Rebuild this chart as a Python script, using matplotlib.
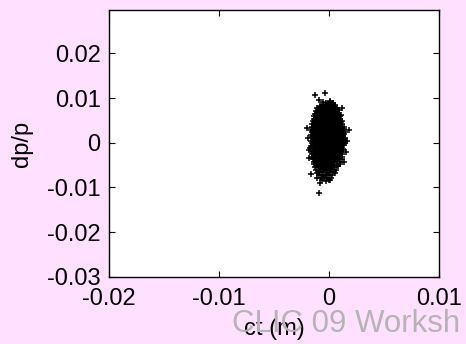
import matplotlib
matplotlib.use("Agg")
import matplotlib.pyplot as plt
import numpy as np

plt.rcParams['font.family'] = ['Liberation Sans', 'DejaVu Sans']

# longitudinal phase space, ct in mm and dp/p in units of 1e-3
ct_core = [
    -0.55, -0.25, 0.05, 0.4,
    -0.85, -0.6, -0.3, 0.0, 0.3, 0.55,
    -1.05, -0.75, -0.45, -0.15, 0.15, 0.45, 0.75,
    -1.2, -0.9, -0.6, -0.3, 0.0, 0.3, 0.6, 0.9,
    -1.25, -0.95, -0.65, -0.35, -0.05, 0.25, 0.55, 0.85,
    -1.35, -1.05, -0.75, -0.45, -0.15, 0.15, 0.45, 0.75, 1.0,
    -1.4, -1.1, -0.8, -0.5, -0.2, 0.1, 0.4, 0.7, 1.0,
    -1.45, -1.15, -0.85, -0.55, -0.25, 0.05, 0.35, 0.65, 0.95, 1.2,
    -1.5, -1.2, -0.9, -0.6, -0.3, 0.0, 0.3, 0.6, 0.9, 1.2,
    -1.55, -1.25, -0.95, -0.65, -0.35, -0.05, 0.25, 0.55, 0.85, 1.15, 1.35,
    -1.6, -1.3, -1.0, -0.7, -0.4, -0.1, 0.2, 0.5, 0.8, 1.1, 1.4,
    -1.55, -1.25, -0.95, -0.65, -0.35, -0.05, 0.25, 0.55, 0.85, 1.15, 1.45,
    -1.6, -1.3, -1.0, -0.7, -0.4, -0.1, 0.2, 0.5, 0.8, 1.1, 1.4,
    -1.5, -1.2, -0.9, -0.6, -0.3, 0.0, 0.3, 0.6, 0.9, 1.2, 1.45,
    -1.6, -1.3, -1.0, -0.7, -0.4, -0.1, 0.2, 0.5, 0.8, 1.1, 1.4,
    -1.5, -1.2, -0.9, -0.6, -0.3, 0.0, 0.3, 0.6, 0.9, 1.2, 1.45,
    -1.6, -1.3, -1.0, -0.7, -0.4, -0.1, 0.2, 0.5, 0.8, 1.1, 1.35,
    -1.7, -1.4, -1.1, -0.8, -0.5, -0.2, 0.1, 0.4, 0.7, 1.0, 1.3,
    -1.6, -1.3, -1.0, -0.7, -0.4, -0.1, 0.2, 0.5, 0.8, 1.1, 1.3,
    -1.5, -1.2, -0.9, -0.6, -0.3, 0.0, 0.3, 0.6, 0.9, 1.2,
    -1.5, -1.25, -0.95, -0.65, -0.35, -0.05, 0.25, 0.55, 0.85, 1.15,
    -1.45, -1.15, -0.85, -0.55, -0.25, 0.05, 0.35, 0.65, 0.95, 1.2,
    -1.4, -1.1, -0.8, -0.5, -0.2, 0.1, 0.4, 0.7, 1.0,
    -1.35, -1.05, -0.75, -0.45, -0.15, 0.15, 0.45, 0.75, 1.0,
    -1.3, -1.0, -0.7, -0.4, -0.1, 0.2, 0.5, 0.85,
    -1.2, -0.9, -0.6, -0.3, 0.0, 0.3, 0.6,
    -1.1, -0.8, -0.5, -0.2, 0.1, 0.4,
    -0.9, -0.6, -0.3, 0.0, 0.3,
    -0.75, -0.45, -0.15, 0.15,
    -0.6, -0.3, 0.0,
]
dpp_core = [
    9.1, 8.9, 9.2, 8.8,
    8.3, 8.5, 8.4, 8.6, 8.3, 8.5,
    7.7, 7.9, 7.8, 7.7, 7.9, 7.8, 7.7,
    7.1, 7.3, 7.2, 7.1, 7.3, 7.2, 7.1, 7.3,
    6.5, 6.7, 6.6, 6.5, 6.7, 6.6, 6.5, 6.7,
    6.0, 5.9, 6.1, 6.0, 5.9, 6.1, 6.0, 5.9, 6.1,
    5.3, 5.5, 5.4, 5.3, 5.5, 5.4, 5.3, 5.5, 5.4,
    4.8, 4.7, 4.9, 4.8, 4.7, 4.9, 4.8, 4.7, 4.9, 4.8,
    4.1, 4.3, 4.2, 4.1, 4.3, 4.2, 4.1, 4.3, 4.2, 4.1,
    3.6, 3.5, 3.7, 3.6, 3.5, 3.7, 3.6, 3.5, 3.7, 3.6, 3.5,
    2.9, 3.1, 3.0, 2.9, 3.1, 3.0, 2.9, 3.1, 3.0, 2.9, 3.1,
    2.4, 2.3, 2.5, 2.4, 2.3, 2.5, 2.4, 2.3, 2.5, 2.4, 2.3,
    1.7, 1.9, 1.8, 1.7, 1.9, 1.8, 1.7, 1.9, 1.8, 1.7, 1.9,
    1.2, 1.1, 1.3, 1.2, 1.1, 1.3, 1.2, 1.1, 1.3, 1.2, 1.1,
    0.5, 0.7, 0.6, 0.5, 0.7, 0.6, 0.5, 0.7, 0.6, 0.5, 0.7,
    0.0, -0.1, 0.1, 0.0, -0.1, 0.1, 0.0, -0.1, 0.1, 0.0, -0.1,
    -0.7, -0.5, -0.6, -0.7, -0.5, -0.6, -0.7, -0.5, -0.6, -0.7, -0.5,
    -1.2, -1.3, -1.1, -1.2, -1.3, -1.1, -1.2, -1.3, -1.1, -1.2, -1.3,
    -1.9, -1.7, -1.8, -1.9, -1.7, -1.8, -1.9, -1.7, -1.8, -1.9, -1.7,
    -2.4, -2.5, -2.3, -2.4, -2.5, -2.3, -2.4, -2.5, -2.3, -2.4,
    -3.1, -2.9, -3.0, -3.1, -2.9, -3.0, -3.1, -2.9, -3.0, -3.1,
    -3.6, -3.7, -3.5, -3.6, -3.7, -3.5, -3.6, -3.7, -3.5, -3.6,
    -4.3, -4.1, -4.2, -4.3, -4.1, -4.2, -4.3, -4.1, -4.2,
    -4.8, -4.9, -4.7, -4.8, -4.9, -4.7, -4.8, -4.9, -4.7,
    -5.5, -5.3, -5.4, -5.5, -5.3, -5.4, -5.5, -5.3,
    -6.0, -6.1, -5.9, -6.0, -6.1, -5.9, -6.0,
    -6.7, -6.5, -6.6, -6.7, -6.5, -6.6,
    -7.2, -7.3, -7.1, -7.2, -7.3,
    -7.8, -7.7, -7.9, -7.8,
    -8.3, -8.5, -8.4,
]

# densest part of the bunch, between the rows above
ct_inner = [
    -0.75, -0.45, -0.15, 0.15, 0.45,
    -0.9, -0.6, -0.3, 0.0, 0.3, 0.6,
    -1.05, -0.75, -0.45, -0.15, 0.15, 0.45, 0.75,
    -1.1, -0.8, -0.5, -0.2, 0.1, 0.4, 0.7,
    -1.2, -0.9, -0.6, -0.3, 0.0, 0.3, 0.6, 0.85,
    -1.25, -0.95, -0.65, -0.35, -0.05, 0.25, 0.55, 0.85,
    -1.3, -1.0, -0.7, -0.4, -0.1, 0.2, 0.5, 0.8, 1.05,
    -1.35, -1.05, -0.75, -0.45, -0.15, 0.15, 0.45, 0.75, 1.0,
    -1.4, -1.1, -0.8, -0.5, -0.2, 0.1, 0.4, 0.7, 1.0, 1.2,
    -1.35, -1.05, -0.75, -0.45, -0.15, 0.15, 0.45, 0.75, 1.05, 1.3,
    -1.4, -1.1, -0.8, -0.5, -0.2, 0.1, 0.4, 0.7, 1.0, 1.25,
    -1.35, -1.05, -0.75, -0.45, -0.15, 0.15, 0.45, 0.75, 1.05, 1.3,
    -1.4, -1.1, -0.8, -0.5, -0.2, 0.1, 0.4, 0.7, 1.0, 1.25,
    -1.35, -1.05, -0.75, -0.45, -0.15, 0.15, 0.45, 0.75, 1.05, 1.3,
    -1.45, -1.15, -0.85, -0.55, -0.25, 0.05, 0.35, 0.65, 0.95, 1.2,
    -1.35, -1.05, -0.75, -0.45, -0.15, 0.15, 0.45, 0.75, 1.05,
    -1.3, -1.0, -0.7, -0.4, -0.1, 0.2, 0.5, 0.8, 1.05,
    -1.35, -1.05, -0.75, -0.45, -0.15, 0.15, 0.45, 0.75, 1.0,
    -1.25, -0.95, -0.65, -0.35, -0.05, 0.25, 0.55, 0.85,
    -1.2, -0.9, -0.6, -0.3, 0.0, 0.3, 0.6, 0.85,
    -1.15, -0.85, -0.55, -0.25, 0.05, 0.35, 0.65,
    -1.05, -0.75, -0.45, -0.15, 0.15, 0.45,
    -0.95, -0.65, -0.35, -0.05, 0.25,
    -0.75, -0.45, -0.15, 0.1,
]
dpp_inner = [
    8.1, 8.0, 8.2, 8.1, 8.0,
    7.5, 7.4, 7.6, 7.5, 7.4, 7.6,
    6.9, 6.8, 7.0, 6.9, 6.8, 7.0, 6.9,
    6.3, 6.2, 6.4, 6.3, 6.2, 6.4, 6.3,
    5.7, 5.6, 5.8, 5.7, 5.6, 5.8, 5.7, 5.6,
    5.1, 5.0, 5.2, 5.1, 5.0, 5.2, 5.1, 5.0,
    4.5, 4.4, 4.6, 4.5, 4.4, 4.6, 4.5, 4.4, 4.6,
    3.9, 3.8, 4.0, 3.9, 3.8, 4.0, 3.9, 3.8, 4.0,
    3.3, 3.2, 3.4, 3.3, 3.2, 3.4, 3.3, 3.2, 3.4, 3.3,
    2.7, 2.6, 2.8, 2.7, 2.6, 2.8, 2.7, 2.6, 2.8, 2.7,
    2.1, 2.0, 2.2, 2.1, 2.0, 2.2, 2.1, 2.0, 2.2, 2.1,
    1.5, 1.4, 1.6, 1.5, 1.4, 1.6, 1.5, 1.4, 1.6, 1.5,
    0.9, 0.8, 1.0, 0.9, 0.8, 1.0, 0.9, 0.8, 1.0, 0.9,
    0.3, 0.2, 0.4, 0.3, 0.2, 0.4, 0.3, 0.2, 0.4, 0.3,
    -0.3, -0.4, -0.2, -0.3, -0.4, -0.2, -0.3, -0.4, -0.2, -0.3,
    -0.9, -1.0, -0.8, -0.9, -1.0, -0.8, -0.9, -1.0, -0.8,
    -1.5, -1.6, -1.4, -1.5, -1.6, -1.4, -1.5, -1.6, -1.4,
    -2.1, -2.2, -2.0, -2.1, -2.2, -2.0, -2.1, -2.2, -2.0,
    -2.7, -2.8, -2.6, -2.7, -2.8, -2.6, -2.7, -2.8,
    -3.3, -3.4, -3.2, -3.3, -3.4, -3.2, -3.3, -3.4,
    -3.9, -4.0, -3.8, -3.9, -4.0, -3.8, -3.9,
    -4.5, -4.6, -4.4, -4.5, -4.6, -4.4,
    -5.1, -5.2, -5.0, -5.1, -5.2,
    -5.7, -5.8, -5.6, -5.7,
]

# halo particles around the bunch
ct_halo = [-1.25, -0.34, -0.95, 0.12, 1.18, 1.05, -2.0, 1.78, -1.85, 1.35,
           -1.6, 0.57, -0.8, -0.95, -1.1, 0.12, 1.6, -1.9, 1.55, -1.8, 0.35]
dpp_halo = [10.7, 11.1, 9.6, 9.3, 7.8, 6.3, 3.3, 2.8, -1.6, -4.4,
            -6.9, -6.8, -9.0, -11.3, -7.9, -8.3, 0.4, 1.0, -2.0, -3.5, 8.8]

xticks = [-0.02, -0.01, 0, 0.01]
xticklabels = ['-0.02', '-0.01', '0', '0.01']
yticks = [-0.03, -0.02, -0.01, 0, 0.01, 0.02]
yticklabels = ['-0.03', '-0.02', '-0.01', '0', '0.01', '0.02']

ct = np.array(ct_core + ct_inner + ct_halo) * 1e-3
dpp = np.array(dpp_core + dpp_inner + dpp_halo) * 1e-3

fig = plt.figure(figsize=(4.66, 3.44), dpi=100, facecolor='#ffe0ff')
ax = fig.add_axes([0.234, 0.195, 0.708, 0.776])
ax.set_facecolor('white')

ax.plot(ct, dpp, '+', color='black', markersize=3.8, markeredgewidth=1.1)

ax.set_xlim(-0.02, 0.01)
ax.set_ylim(-0.03, 0.0297)
ax.set_xticks(xticks)
ax.set_xticklabels(xticklabels)
ax.set_yticks(yticks)
ax.set_yticklabels(yticklabels)
ax.tick_params(direction='in', top=True, right=True, length=4, width=0.8,
               labelsize=17)
ax.tick_params(axis='x', pad=8)
ax.tick_params(axis='y', pad=6)
for s in ax.spines.values():
    s.set_linewidth(1.0)

ax.set_xlabel('ct (m)', fontsize=17, labelpad=6, zorder=5)
ax.set_ylabel('dp/p', fontsize=17, labelpad=10)

fig.text(232 / 466, 0.035, 'CLIC 09 Worksh', fontsize=22.5,
         color='#b4b4b4', ha='left', va='baseline', zorder=1)

fig.savefig('out.png', dpi=100, facecolor=fig.get_facecolor())
